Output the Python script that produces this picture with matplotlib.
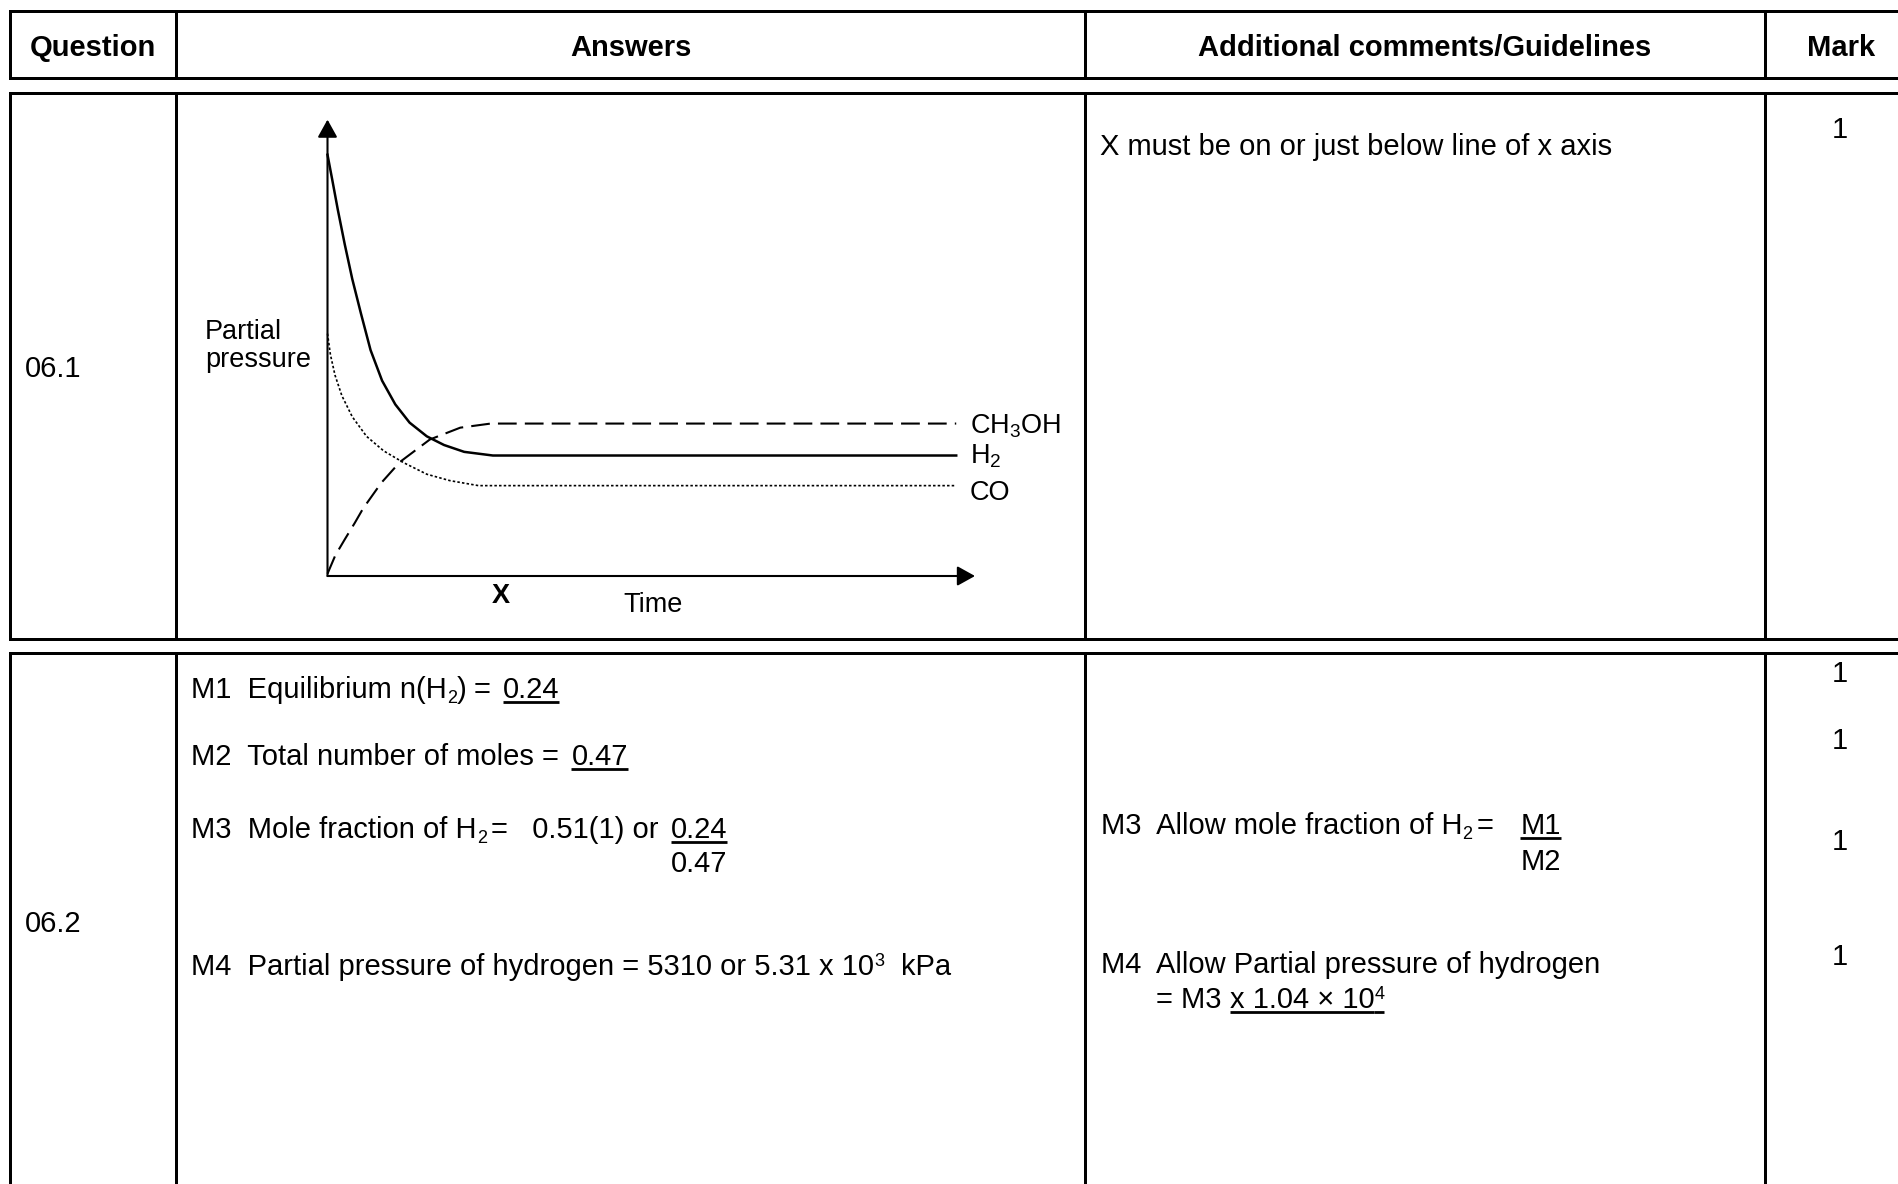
import matplotlib
matplotlib.use("Agg")
import matplotlib.pyplot as plt

# ---------------- data ----------------
columns = ["Question", "Answers", "Additional comments/Guidelines", "Mark"]
question_ids = ["06.1", "06.2"]
comment_q1 = "X must be on or just below line of x axis"
marks_q1 = ["1"]
marks_q2 = ["1", "1", "1", "1"]

# sketch graph (arbitrary units: time 0-100, partial pressure 0-100)
h2_time = [0, 0.71, 1.60, 2.66, 3.82, 5.15, 6.65, 8.43, 10.47, 12.68, 15.34, 18.00, 21.11, 25.54, 97.1]
h2_pressure = [92.3, 87.0, 80.2, 72.7, 65.1, 57.6, 49.5, 42.8, 37.6, 33.6, 30.6, 28.7, 27.2, 26.4, 26.4]
co_time = [0, 0.45, 1.16, 2.22, 3.82, 6.03, 8.69, 11.80, 15.34, 18.89, 23.32, 97.1]
co_pressure = [53.1, 48.5, 44.0, 39.5, 34.9, 30.6, 27.4, 24.8, 22.3, 20.9, 19.8, 19.8]
ch3oh_time = [0, 1.2, 2.7, 4.2, 5.5, 8.3, 11.2, 15.8, 20.5, 25.2, 97.1]
ch3oh_pressure = [0.5, 4.5, 8.1, 11.6, 14.8, 20.4, 25.0, 29.9, 32.5, 33.4, 33.4]
series_labels = ["CH$_3$OH", "H$_2$", "CO"]

# ---------------- style ----------------
W, H = 1899, 1184
FONT = "Liberation Sans"
plt.rcParams["font.family"] = [FONT, "DejaVu Sans"]
plt.rcParams["mathtext.fontset"] = "custom"
plt.rcParams["mathtext.rm"] = FONT
plt.rcParams["mathtext.it"] = FONT + ":italic"
plt.rcParams["mathtext.bf"] = FONT + ":bold"

BODY = 21
GRAPH_FS = 19.5
TABLE_LW = 2.16
UL_LW = 2.0
UL_OFF = 4

fig = plt.figure(figsize=(W / 100, H / 100), dpi=100)
ax = fig.add_axes([0, 0, 1, 1])
ax.set_xlim(0, W)
ax.set_ylim(H, 0)
ax.axis("off")
R = fig.canvas.get_renderer()


def adv(s, size, weight="normal"):
    t = ax.text(0, 0, "|" + s + "|", fontsize=size, fontweight=weight)
    w1 = t.get_window_extent(R).width
    t.set_text("||")
    w2 = t.get_window_extent(R).width
    t.remove()
    return w1 - w2


def runs(x, base, parts, size=BODY):
    starts = []
    for text, style in parts:
        if style == "gap":
            x += text
            starts.append(x)
            continue
        if "sub" in style:
            fs, dy = size * 0.62, 5
        elif "sup" in style:
            fs, dy = size * 0.62, -9
        else:
            fs, dy = size, 0
        starts.append(x)
        ax.text(x, base + dy, text, fontsize=fs, ha="left", va="baseline")
        w = adv(text, fs)
        if "u" in style.replace("sub", "").replace("sup", ""):
            ax.plot([x, x + w], [base + UL_OFF, base + UL_OFF], color="k",
                    lw=UL_LW, solid_capstyle="butt")
        x += w
    return starts


def hline(y, x0, x1):
    ax.plot([x0, x1], [y, y], color="k", lw=TABLE_LW, solid_capstyle="projecting")


def vline(x, y0, y1):
    ax.plot([x, x], [y0, y1], color="k", lw=TABLE_LW, solid_capstyle="projecting")


# ---------------- table grid ----------------
col_x = [10, 176, 1085, 1765]
col_centers = [93, 630.5, 1425, 1841]
RIGHT = 1915
hdr_top, hdr_bot = 11, 77.5
r1_top, r1_bot = 92.5, 639
r2_top, r2_bot = 653, 1195

for y in (hdr_top, hdr_bot, r1_top, r1_bot, r2_top):
    hline(y, col_x[0], RIGHT)
for x in col_x:
    vline(x, hdr_top, hdr_bot)
    vline(x, r1_top, r1_bot)
    vline(x, r2_top, r2_bot)

for name, cx in zip(columns, col_centers):
    ax.text(cx, 55.5, name, fontsize=BODY, fontweight="bold", ha="center", va="baseline")

# ---------------- row 06.1 ----------------
ax.text(25, 377, question_ids[0], fontsize=BODY, ha="left", va="baseline")
ax.text(1100, 155, comment_q1, fontsize=BODY, ha="left", va="baseline")
ax.text(1840, 138, marks_q1[0], fontsize=BODY, ha="center", va="baseline")

# sketch graph
gx0, gy0, gx1, gy1 = 327.5, 576, 975, 119.6
gax = fig.add_axes([gx0 / W, 1 - gy0 / H, (gx1 - gx0) / W, (gy0 - gy1) / H])
gax.set_xlim(0, 100)
gax.set_ylim(0, 100)
gax.axis("off")
arrow = dict(arrowstyle="-|>,head_length=0.54,head_width=0.30", mutation_scale=20,
             lw=1.5, color="k", shrinkA=0, shrinkB=0)
gax.annotate("", xy=(100, 0), xytext=(0, 0), arrowprops=arrow, annotation_clip=False)
gax.annotate("", xy=(0, 100), xytext=(0, 0), arrowprops=arrow, annotation_clip=False)
gax.plot(ch3oh_time, ch3oh_pressure, color="k", lw=1.5, ls=(0, (9, 3.9)), clip_on=False)
gax.plot(h2_time, h2_pressure, color="k", lw=1.8, ls="-", clip_on=False)
gax.plot(co_time, co_pressure, color="k", lw=1.2, ls=(0, (1.5, 1.3)), clip_on=False)

for lab, base in zip(series_labels, [433, 463, 499.5]):
    ax.text(970, base, lab, fontsize=GRAPH_FS, ha="left", va="baseline")
ax.text(205, 339, "Partial", fontsize=GRAPH_FS, ha="left", va="baseline")
ax.text(205, 367, "pressure", fontsize=GRAPH_FS, ha="left", va="baseline")
ax.text(501, 603, "X", fontsize=GRAPH_FS, fontweight="bold", ha="center", va="baseline")
ax.text(623, 611.5, "Time", fontsize=GRAPH_FS, ha="left", va="baseline")

# ---------------- row 06.2 ----------------
ax.text(25, 932, question_ids[1], fontsize=BODY, ha="left", va="baseline")

runs(191.5, 698, [("M1  Equilibrium n(H", ""), ("2", "sub"), (")", ""), (7, "gap"),
                  ("=", ""), (12, "gap"), ("0.24", "u")])
runs(191.5, 765, [("M2  Total number of moles = ", ""), (4, "gap"), ("0.47", "u")])
s = runs(191.5, 838, [("M3  Mole fraction of H", ""), ("2", "sub"), (4, "gap"),
                      ("=   0.51(1) or ", ""), (4, "gap"), ("0.24", "u")])
ax.text(s[-1], 872, "0.47", fontsize=BODY, ha="left", va="baseline")
runs(191.5, 975, [("M4  Partial pressure of hydrogen = 5310 or 5.31 x 10", ""),
                  ("3", "sup"), (17, "gap"), ("kPa", "")])

s = runs(1101, 834, [("M3  Allow mole fraction of H", ""), ("2", "sub"), (4, "gap"),
                     ("=", ""), (27, "gap"), ("M1", "u")])
ax.text(s[-1], 870, "M2", fontsize=BODY, ha="left", va="baseline")
runs(1101, 973, [("M4  Allow Partial pressure of hydrogen", "")])
runs(1156, 1008, [("= M3 ", ""), ("x 1.04 × 10", "u"), ("4", "sup u")])

for m, base in zip(marks_q2, [682, 749, 850, 965]):
    ax.text(1840, base, m, fontsize=BODY, ha="center", va="baseline")

fig.savefig("out.png", dpi=100, facecolor="white")
